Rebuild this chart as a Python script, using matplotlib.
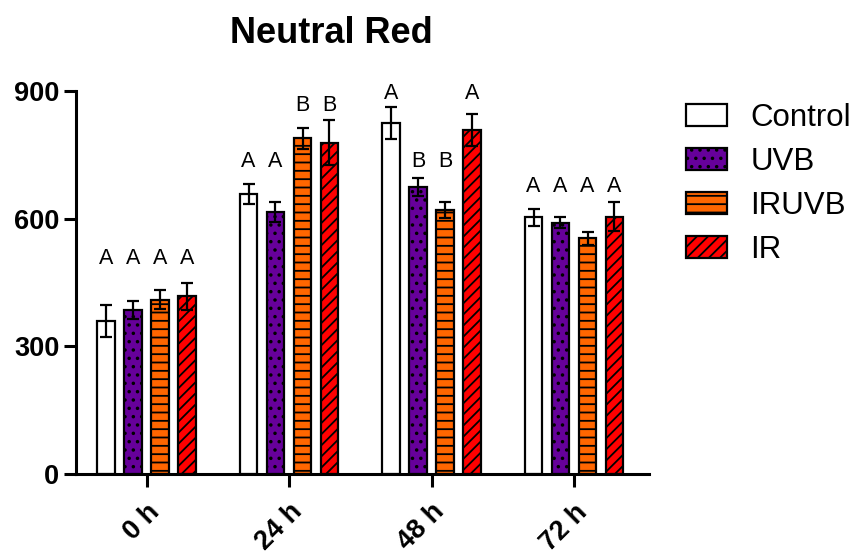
import numpy as np
import matplotlib
matplotlib.use('Agg')
import matplotlib.pyplot as plt

# ==========================================
# DATA
# ==========================================
timepoints = ['0 h', '24 h', '48 h', '72 h']
groups = ['Control', 'UVB', 'IRUVB', 'IR']

control_mean = [360, 658, 825, 603]
control_sem = [37, 24, 37, 20]
uvb_mean = [386, 616, 674, 590]
uvb_sem = [21, 24, 21, 13]
iruvb_mean = [410, 789, 620, 554]
iruvb_sem = [22, 25, 19, 15]
ir_mean = [418, 779, 808, 605]
ir_sem = [32, 53, 38, 35]

# significance letters and their heights
control_letters = ['A', 'A', 'A', 'A']
uvb_letters = ['A', 'A', 'B', 'A']
iruvb_letters = ['A', 'B', 'B', 'A']
ir_letters = ['A', 'B', 'A', 'A']
control_letter_y = [507, 734, 895, 676]
uvb_letter_y = [507, 734, 735, 676]
iruvb_letter_y = [507, 865, 735, 676]
ir_letter_y = [507, 865, 895, 676]

# ==========================================
# STYLE
# ==========================================
plt.rcParams['font.family'] = ['Liberation Sans', 'DejaVu Sans']
plt.rcParams['hatch.linewidth'] = 1.3

colors = ['white', '#66009a', '#ff6600', '#ff0000']
hatches = ['', '..', '--', '///']

means = [control_mean, uvb_mean, iruvb_mean, ir_mean]
sems = [control_sem, uvb_sem, iruvb_sem, ir_sem]
letters = [control_letters, uvb_letters, iruvb_letters, ir_letters]
letter_y = [control_letter_y, uvb_letter_y, iruvb_letter_y, ir_letter_y]

fig = plt.figure(figsize=(8.52, 5.52), dpi=100)
ax = fig.add_axes([0.0892, 0.1413, 0.6725, 0.6938])

x = np.arange(len(timepoints))
offsets = [-0.284, -0.095, 0.095, 0.284]
width = 0.125

for i, g in enumerate(groups):
    xpos = x + offsets[i]
    ax.bar(xpos, means[i], width, color=colors[i], edgecolor='black',
           linewidth=1.6, hatch=hatches[i], label=g, zorder=2)
    ax.errorbar(xpos, means[i], yerr=sems[i], fmt='none', ecolor='black',
                elinewidth=1.6, capsize=4, capthick=1.6, zorder=3)
    for xp, lt, ly in zip(xpos, letters[i], letter_y[i]):
        ax.text(xp, ly, lt, ha='center', va='center', fontsize=15.5)

ax.set_xlim(-0.495, 3.526)
ax.set_ylim(0, 900)
ax.set_yticks([0, 300, 600, 900])
ax.set_xticks(x)
ax.set_xticklabels(timepoints, rotation=45, ha='right', va='top',
                   rotation_mode='anchor', fontsize=19.5, fontweight='bold')
for lab in ax.get_yticklabels():
    lab.set_fontsize(19.5)
    lab.set_fontweight('bold')

for s in ['top', 'right']:
    ax.spines[s].set_visible(False)
for s in ['left', 'bottom']:
    ax.spines[s].set_linewidth(2.2)
ax.tick_params(axis='both', width=2.2, length=9, pad=3)
ax.tick_params(axis='x', pad=9)

fig.text(0.389, 0.94, 'Neutral Red', ha='center', va='center',
         fontsize=26, fontweight='bold')

fig.legend(loc='upper left', bbox_to_anchor=(686 / 852, 1 - 103 / 552),
           frameon=False, fontsize=22.5, handlelength=1.3, handleheight=0.7,
           handletextpad=0.76, labelspacing=0.45, borderpad=0, borderaxespad=0)

plt.savefig('out.png', dpi=100)
